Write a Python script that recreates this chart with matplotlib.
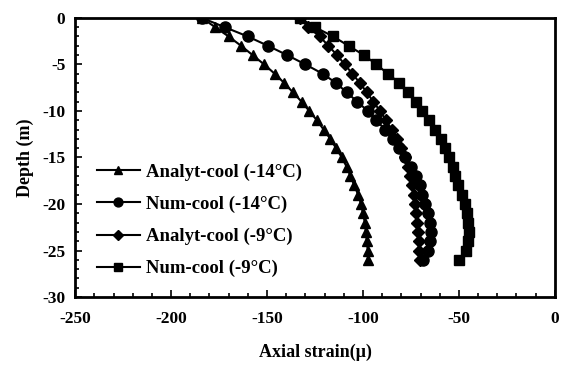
import matplotlib
matplotlib.use('Agg')
import matplotlib.pyplot as plt
from matplotlib.ticker import MultipleLocator

# depth below surface (m), one reading per metre
depth = list(range(0, -27, -1))

# axial strain (micro) for each case
analyt_cool_14 = [-184, -177, -170, -163.5, -157.5, -151.5, -146, -141, -136.5, -132,
                  -128, -124, -120.5, -117, -114, -111, -108.5, -106.5, -104.5, -102.5,
                  -101, -100, -99, -98.5, -98, -97.5, -97.5]
num_cool_14 = [-184, -172, -160, -149.5, -139.5, -130, -121, -114, -108.5, -103,
               -97.5, -93, -88.5, -84.5, -81, -78, -75, -72.5, -70.5, -69,
               -67.5, -66.3, -65.3, -64.6, -64.8, -66, -68.5]
analyt_cool_9 = [-133, -128.5, -122.5, -118, -113.5, -109.5, -105.5, -101.6, -98, -94.6,
                 -91.1, -88, -85, -82.5, -80, -78, -76.5, -75.5, -74.5, -73.5,
                 -73, -72.5, -72, -71.5, -71, -70.8, -70.5]
num_cool_9 = [-133, -125, -115.5, -107.5, -99.5, -93, -87, -81, -76.5, -72.5,
              -69, -65.5, -62.5, -59.5, -57.3, -55, -53, -52, -50.4, -48.6,
              -47, -46, -45.2, -44.6, -45.2, -46.4, -50]

labels = ['Analyt-cool (-14°C)', 'Num-cool (-14°C)', 'Analyt-cool (-9°C)', 'Num-cool (-9°C)']

plt.rcParams['font.family'] = ['Liberation Serif', 'DejaVu Serif']
plt.rcParams['font.weight'] = 'bold'
plt.rcParams['axes.unicode_minus'] = False

fig = plt.figure(figsize=(5.65, 3.65), dpi=100)
ax = fig.add_axes([0.133, 0.186, 0.849, 0.765])

ax.plot(analyt_cool_14, depth, color='black', lw=1.5, marker='^', ms=7.5, label=labels[0])
ax.plot(num_cool_14, depth, color='black', lw=1.5, marker='o', ms=8, label=labels[1])
ax.plot(analyt_cool_9, depth, color='black', lw=1.5, marker='D', ms=6, label=labels[2])
ax.plot(num_cool_9, depth, color='black', lw=1.5, marker='s', ms=6.5, label=labels[3])

ax.set_xlim(-250, 0)
ax.set_ylim(-30, 0)
ax.xaxis.set_major_locator(MultipleLocator(50))
ax.xaxis.set_minor_locator(MultipleLocator(10))
ax.yaxis.set_major_locator(MultipleLocator(5))
ax.yaxis.set_minor_locator(MultipleLocator(1))
ax.tick_params(which='both', direction='in', top=False, right=False, width=1.2,
               labelsize=12.5)
ax.tick_params(which='major', length=5)
ax.tick_params(which='minor', length=3)
ax.tick_params(axis='x', which='major', pad=10)
ax.tick_params(axis='y', which='major', pad=7)
for s in ax.spines.values():
    s.set_linewidth(2)

ax.set_xlabel('Axial strain(μ)', fontsize=13, fontweight='bold', labelpad=12)
ax.set_ylabel('Depth (m)', fontsize=13, fontweight='bold', labelpad=6)

ax.legend(loc='upper left', bbox_to_anchor=(0.01, 0.54), frameon=False,
          prop={'size': 13.5, 'weight': 'bold'}, handlelength=2.3,
          markerscale=0.8, labelspacing=0.8, handletextpad=0.3)

fig.savefig('out.png', dpi=100)
